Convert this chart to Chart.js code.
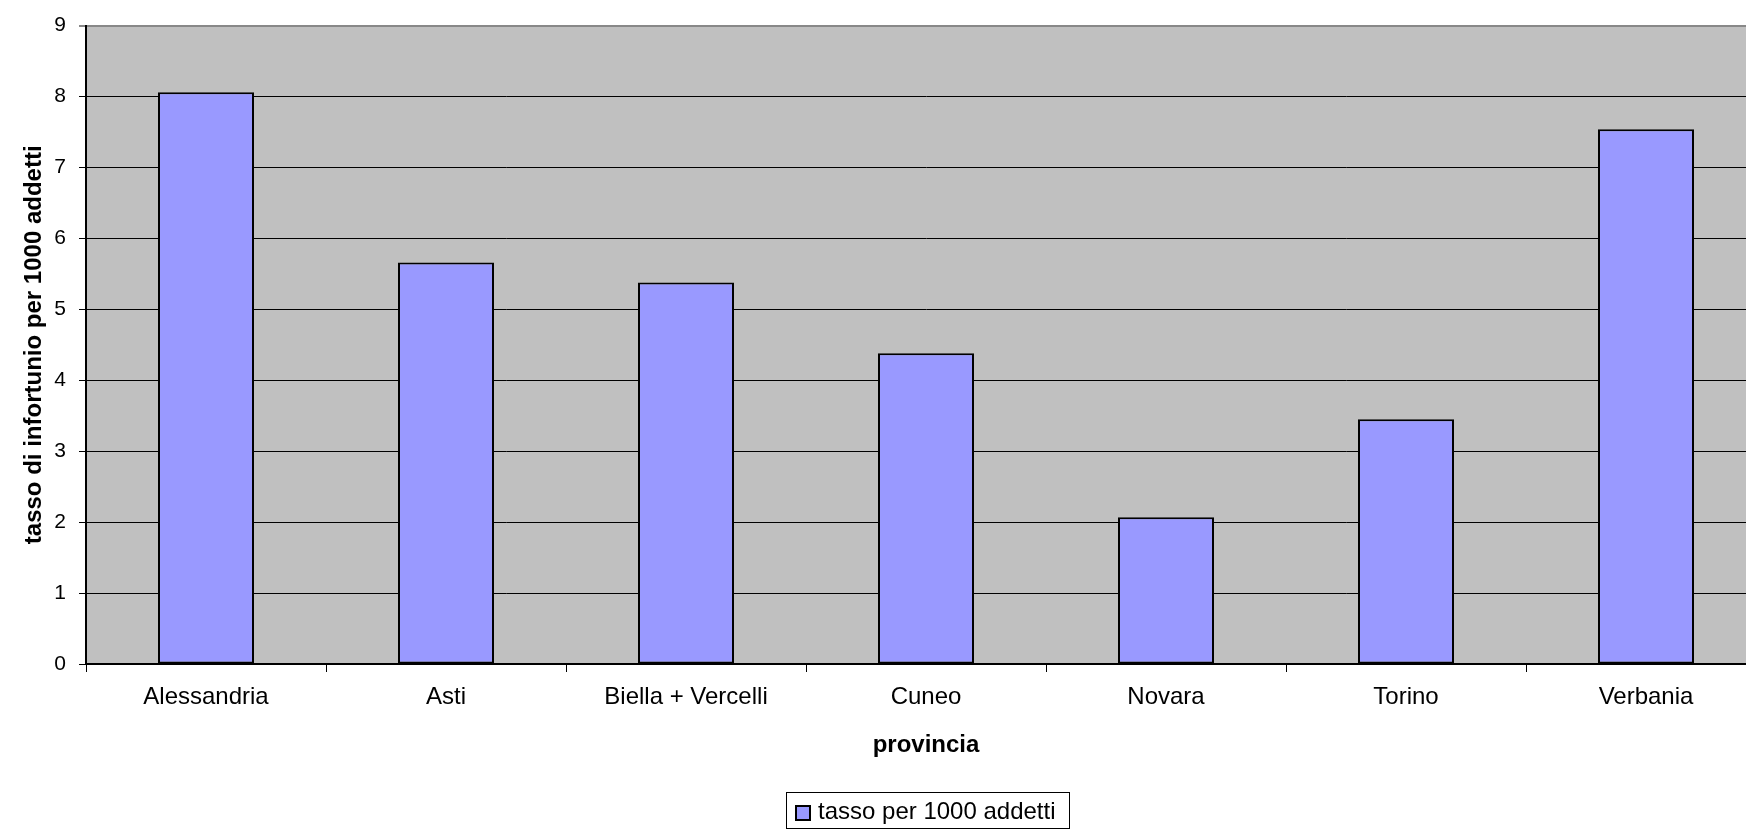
<!DOCTYPE html>
<html>
<head>
<meta charset="utf-8">
<script src="https://cdn.jsdelivr.net/npm/chart.js@4/dist/chart.umd.min.js"></script>
<style>
  html, body { margin: 0; padding: 0; background: #fff; overflow: hidden; }
  #wrap { width: 1746px; height: 830px; overflow: hidden; }
</style>
</head>
<body>
<div id="wrap">
  <canvas id="myChart" width="1860" height="830"></canvas>
</div>
<script>
// province e tassi
const province = ['Alessandria', 'Asti', 'Biella + Vercelli', 'Cuneo', 'Novara', 'Torino', 'Verbania'];
const tassi = [8.06, 5.66, 5.38, 4.38, 2.07, 3.45, 7.54];
const serieLabel = 'tasso per 1000 addetti';
const yTicks = [0, 1, 2, 3, 4, 5, 6, 7, 8, 9];

const barColor = '#9999FF';
const plotBG = '#C0C0C0';
const FONT = "'Liberation Sans', Arial, sans-serif";

// sfondo grigio dell'area del grafico
const plotBackground = {
  id: 'plotBackground',
  beforeDraw(chart) {
    const { ctx, chartArea } = chart;
    ctx.save();
    ctx.fillStyle = plotBG;
    ctx.fillRect(chartArea.left, chartArea.top, chartArea.right - chartArea.left, chartArea.bottom - chartArea.top);
    ctx.restore();
  }
};

// legenda con riquadro
const boxedLegend = {
  id: 'boxedLegend',
  afterDraw(chart) {
    const ctx = chart.ctx;
    const ds = chart.data.datasets[0];
    const x = 786, y = 792, w = 283, h = 36;
    ctx.save();
    ctx.fillStyle = '#fff';
    ctx.fillRect(x, y, w, h);
    ctx.strokeStyle = '#000';
    ctx.lineWidth = 1;
    ctx.strokeRect(x + 0.5, y + 0.5, w, h);
    ctx.fillStyle = ds.backgroundColor;
    ctx.fillRect(796, 806, 14, 14);
    ctx.lineWidth = 2;
    ctx.strokeRect(796, 806, 14, 14);
    ctx.fillStyle = '#000';
    ctx.font = '24px ' + FONT;
    ctx.textBaseline = 'middle';
    ctx.fillText(ds.label, 818, 812);
    ctx.restore();
  }
};

const ctx = document.querySelector('#myChart');

new Chart(ctx, {
  type: 'bar',
  data: {
    labels: province,
    datasets: [{
      label: serieLabel,
      data: tassi,
      backgroundColor: barColor,
      borderColor: '#000',
      borderWidth: 2,
      borderSkipped: false,
      barPercentage: 0.4,
      categoryPercentage: 1.0
    }]
  },
  options: {
    responsive: false,
    animation: false,
    layout: { padding: { top: 23, right: 94, bottom: 0, left: 0 } },
    plugins: {
      legend: { display: false },
      tooltip: { enabled: false }
    },
    scales: {
      x: {
        afterFit(scale) { scale.height = 166; },
        grid: {
          drawOnChartArea: false,
          drawTicks: true,
          tickLength: 8,
          color: '#000',
          offset: true
        },
        border: { color: '#000', width: 2 },
        ticks: {
          color: '#000',
          padding: 11,
          maxRotation: 0,
          font: { family: FONT, size: 24 }
        },
        title: {
          display: true,
          text: 'provincia',
          color: '#000',
          padding: { top: 0, bottom: 70 },
          font: { family: FONT, size: 24, weight: 'bold' }
        }
      },
      y: {
        min: 0,
        max: 9,
        afterFit(scale) { scale.width = 86; },
        afterBuildTicks(scale) { scale.ticks = yTicks.map(v => ({ value: v })); },
        grid: {
          color: c => (c.tick && c.tick.value === 9 ? '#888' : '#000'),
          lineWidth: c => (c.tick && c.tick.value === 9 ? 2 : 1),
          tickLength: 7
        },
        border: { color: '#000', width: 2 },
        ticks: {
          color: '#000',
          padding: 13,
          font: { family: FONT, size: 21 }
        },
        title: {
          display: true,
          text: 'tasso di infortunio per 1000 addetti',
          color: '#000',
          padding: { top: 20, bottom: 0 },
          font: { family: FONT, size: 24, weight: 'bold' }
        }
      }
    }
  },
  plugins: [plotBackground, boxedLegend]
});
</script>
</body>
</html>
